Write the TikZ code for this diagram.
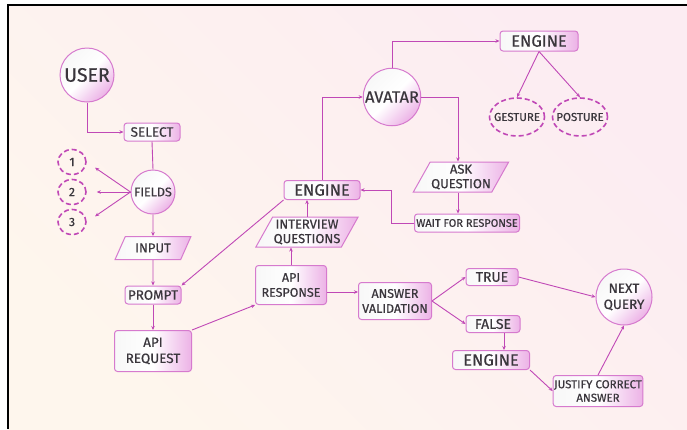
\documentclass[tikz,border=0pt]{standalone}
\usepackage{fontspec}
\setmainfont{Fira Sans}[FakeBold=0.5]
\usetikzlibrary{shapes.geometric, arrows.meta}

\definecolor{wirepink}{RGB}{192,72,182}
\definecolor{rimpink}{RGB}{214,122,206}
\definecolor{blush}{RGB}{236,178,230}
\definecolor{ink}{RGB}{58,54,60}
\definecolor{paper}{RGB}{254,246,237}
\definecolor{rose}{RGB}{252,236,242}

\begin{document}
\begin{tikzpicture}[x=1pt, y=-1pt,
    fillpink/.style={left color=white!94!gray, right color=blush, middle color=white},
    box/.style={draw=rimpink, line width=1pt, rounded corners=3pt, fillpink, text=ink,
        align=center, inner sep=1pt, font=\fontsize{13.5}{15}\selectfont},
    bub/.style={circle, draw=rimpink, line width=1pt, fillpink, shading angle=45, text=ink,
        align=center, inner sep=1pt, font=\fontsize{13.5}{15.5}\selectfont},
    slant/.style={trapezium, trapezium left angle=58, trapezium right angle=122,
        trapezium stretches=true, draw=rimpink, line width=1pt, fillpink, text=ink,
        align=center, inner sep=1pt, font=\fontsize{13}{14.5}\selectfont},
    opt/.style={ellipse, draw=wirepink, line width=1.6pt, dash pattern=on 5pt off 3pt,
        text=ink, inner sep=1pt, font=\fontsize{12}{14}\selectfont},
    wire/.style={draw=wirepink, line width=0.9pt},
    arr/.style={wire, -{Stealth[length=4pt, width=3.5pt]}}]

    \useasboundingbox (0,0) rectangle (687,429);
    \fill[left color=paper, right color=rose, shading angle=135] (8,5) rectangle (687,429);
    \draw[line width=2pt] (8,429) -- (8,5) -- (687,5);

    % left column
    \node[bub, minimum size=54pt, font=\fontsize{19.5}{21}\selectfont] (user) at (87,75) {USER};
    \node[box, minimum width=56pt, minimum height=18pt] (select) at (152,132) {SELECT};
    \node[bub, minimum size=44pt, font=\fontsize{12.5}{14}\selectfont] (fields) at (153,192) {FIELDS};
    \node[opt, minimum width=28pt, minimum height=25pt] (f1) at (72,162) {1};
    \node[opt, minimum width=28pt, minimum height=25pt] (f2) at (72,192) {2};
    \node[opt, minimum width=28pt, minimum height=25pt] (f3) at (72,222) {3};
    \node[slant, minimum width=76pt, minimum height=23pt] (input) at (153,248) {INPUT};
    \node[box, minimum width=56pt, minimum height=18pt] (prompt) at (153,295) {PROMPT};
    \node[box, minimum width=77pt, minimum height=41pt, font=\fontsize{13.5}{16}\selectfont] (apireq) at (153,351) {API\\REQUEST};

    % middle
    \node[box, minimum width=71pt, minimum height=39pt, font=\fontsize{12.5}{15}\selectfont] (apiresp) at (291,285) {API\\RESPONSE};
    \node[slant, minimum width=96pt, minimum height=30pt] (iq) at (307,232) {INTERVIEW\\QUESTIONS};
    \node[box, minimum width=76pt, minimum height=19pt, font=\fontsize{16.5}{18}\selectfont] (engmid) at (322,190) {ENGINE};
    \node[bub, minimum size=56pt, font=\fontsize{16.5}{18}\selectfont] (avatar) at (392,97) {AVATAR};
    \node[box, minimum width=78pt, minimum height=20pt, font=\fontsize{16.5}{18}\selectfont] (engtop) at (539,41) {ENGINE};
    \node[opt, inner xsep=-5pt, minimum width=55pt, minimum height=38pt, font=\fontsize{11.5}{13}\selectfont] (gesture) at (517,117) {GESTURE};
    \node[opt, inner xsep=-5pt, minimum width=55pt, minimum height=38pt, font=\fontsize{11.5}{13}\selectfont] (posture) at (580,117) {POSTURE};
    \node[slant, minimum width=83pt, minimum height=30pt] (ask) at (461,177) {ASK\\QUESTION};
    \node[box, minimum width=105pt, minimum height=18pt, font=\fontsize{11}{12}\selectfont] (wait) at (467,223) {WAIT FOR RESPONSE};

    % right part
    \node[box, minimum width=73pt, minimum height=37pt, font=\fontsize{12.5}{15}\selectfont] (valid) at (395,301) {ANSWER\\VALIDATION};
    \node[box, minimum width=52pt, minimum height=17pt, font=\fontsize{14}{15}\selectfont] (true) at (492,277) {TRUE};
    \node[box, minimum width=54pt, minimum height=17pt, font=\fontsize{14}{15}\selectfont] (false) at (493,324) {FALSE};
    \node[bub, minimum size=56pt, font=\fontsize{13.5}{16}\selectfont] (next) at (624,297) {NEXT\\QUERY};
    \node[box, minimum width=77pt, minimum height=19pt, font=\fontsize{16.5}{18}\selectfont] (englow) at (491,360) {ENGINE};
    \node[box, minimum width=88pt, minimum height=31pt, font=\fontsize{11.5}{13.5}\selectfont] (justify) at (598,391) {JUSTIFY CORRECT\\ANSWER};

    % connectors
    \draw[arr] (user.south) |- (select.west);
    \draw[wire] (select.south) -- (fields.north);
    \draw[arr, shorten >=10pt] (fields.west) -- (f1.east);
    \draw[arr, shorten >=10pt] (fields.west) -- (f2.east);
    \draw[arr, shorten >=10pt] (fields.west) -- (f3.east);
    \draw[arr] (fields.south) -- (input.north);
    \draw[arr] (input.south) -- (prompt.north);
    \draw[arr] (prompt.south) -- (apireq.north);
    \draw[arr] (apireq.north east) -- (apiresp.south west);
    \draw[arr] (apiresp.north) -- (apiresp.north |- iq.south);
    \draw[arr] (iq.north) -- (iq.north |- engmid.south);
    \draw[arr] (engmid.south west) -- (prompt.north east);
    \draw[arr] (engmid.north) |- (avatar.west);
    \draw[arr] (avatar.north) |- (engtop.west);
    \draw[arr] (engtop.south) -- (gesture.north);
    \draw[arr] (engtop.south) -- (posture.north);
    \draw[arr] (avatar.east) -| ([xshift=-3pt]ask.north);
    \draw[arr] ([xshift=-3pt]ask.south) -- ([xshift=-3pt]ask.south |- wait.north);
    \draw[arr] (wait.west) -- ++(-23,0) |- (engmid.east);
    \draw[arr] ([yshift=-7pt]apiresp.east) -- ([yshift=-7pt]apiresp.east -| valid.west);
    \draw[arr] (valid.east) -- (true.west);
    \draw[arr] (valid.east) -- (false.west);
    \draw[arr] (true.east) -- (next.west);
    \draw[arr] ([xshift=11pt]false.south) -- ([xshift=11pt]false.south |- englow.north);
    \draw[arr] (englow.south east) -- (justify.west);
    \draw[arr] (justify.north) -- (next.south);
\end{tikzpicture}
\end{document}
